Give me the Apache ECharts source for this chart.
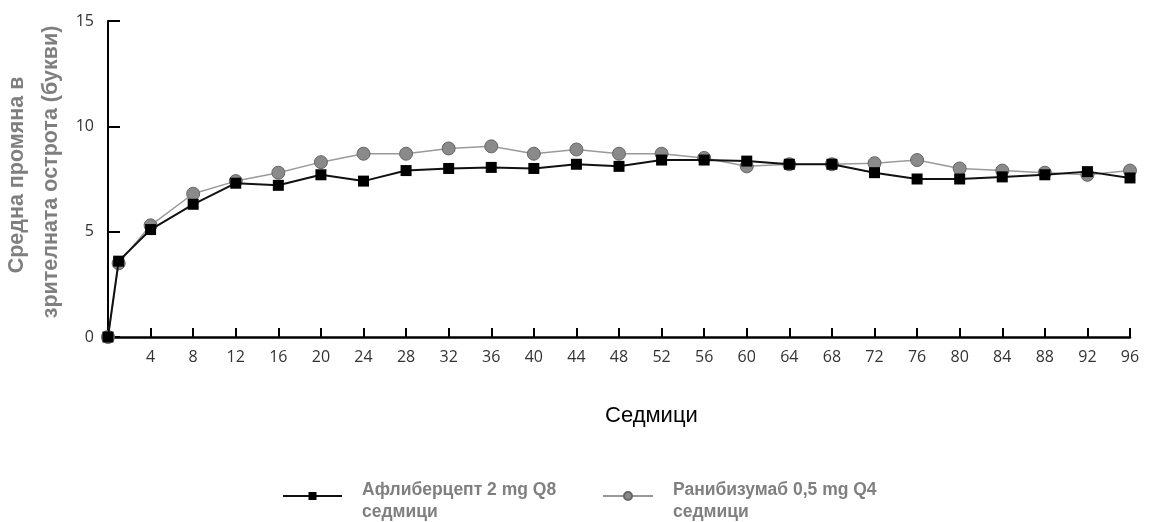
<!DOCTYPE html>
<html>
<head>
<meta charset="utf-8">
<script src="https://cdn.jsdelivr.net/npm/echarts@6/dist/echarts.min.js"></script>
<style>
html,body{margin:0;padding:0;background:#fff;}
#chart{width:1153px;height:522px;}
</style>
</head>
<body>
<div id="chart"></div>
<script>
const weeks = [0,1,4,8,12,16,20,24,28,32,36,40,44,48,52,56,60,64,68,72,76,80,84,88,92,96];
const aflibercept = [0,3.6,5.1,6.3,7.3,7.2,7.7,7.4,7.9,8.0,8.05,8.0,8.2,8.1,8.4,8.4,8.35,8.2,8.2,7.8,7.5,7.5,7.6,7.7,7.85,7.55];
const ranibizumab = [0,3.5,5.3,6.8,7.4,7.8,8.3,8.7,8.7,8.95,9.05,8.7,8.9,8.7,8.7,8.5,8.1,8.2,8.2,8.25,8.4,8.0,7.9,7.8,7.7,7.9];
const seriesNames = ['Афлиберцепт 2 mg Q8\nседмици','Ранибизумаб 0,5 mg Q4\nседмици'];
const yTitleLines = ['Средна промяна в','зрителната острота (букви)'];
const xTitle = 'Седмици';

const chart = echarts.init(document.getElementById('chart'));
const pair = (arr) => weeks.map((w,i)=>[w,arr[i]]);
const lgFont = {
  fontFamily: '"Liberation Sans",Arial,sans-serif',
  fontSize: 17.5, fontWeight: 'bold', color: '#7f7f7f'
};
const legendText = Object.assign({}, lgFont, {
  padding: [0,0,0,15],
  rich: {
    a: Object.assign({}, lgFont, {height: 22, padding: [10,0,0,0]}),
    b: Object.assign({}, lgFont, {height: 22})
  }
});
const legendFormatter = name => {
  const parts = name.split('\n');
  return '{a|' + parts[0] + '}\n{b|' + parts[1] + '}';
};
const yTitleStyle = {
  fill: '#7f7f7f', fontSize: 21.5, fontWeight: 'bold',
  fontFamily: '"Liberation Sans",Arial,sans-serif',
  align: 'center', verticalAlign: 'middle'
};
chart.setOption({
  animation: false,
  backgroundColor: '#fff',
  grid: {left: 108, right: 23, top: 21, bottom: 185, containLabel: false, outerBoundsMode: 'none'},
  xAxis: {
    type: 'value', min: 0, max: 96, interval: 4,
    axisLine: {show: true, lineStyle: {color: '#000', width: 2.5}},
    axisTick: {show: true, inside: true, length: 9, lineStyle: {color: '#000', width: 2}},
    splitLine: {show: false},
    axisLabel: {
      margin: 12, color: '#333', fontSize: 16,
      fontFamily: '"Open Sans","DejaVu Sans",sans-serif',
      formatter: v => v === 0 ? '' : String(v)
    }
  },
  yAxis: {
    type: 'value', min: 0, max: 15, interval: 5,
    axisLine: {show: true, lineStyle: {color: '#000', width: 2}},
    axisTick: {show: true, inside: true, length: 12, lineStyle: {color: '#000', width: 2}},
    splitLine: {show: false},
    axisLabel: {margin: 14, color: '#333', fontSize: 16, fontFamily: '"Open Sans","DejaVu Sans",sans-serif'}
  },
  legend: [
    {data: [seriesNames[0]], left: 277, top: 476, itemWidth: 59, itemHeight: 10, formatter: legendFormatter, textStyle: legendText},
    {data: [seriesNames[1]], left: 597, top: 476, itemWidth: 50, itemHeight: 10, formatter: legendFormatter, textStyle: legendText}
  ],
  graphic: [
    {
      type: 'text', left: 605, top: 405,
      style: {text: xTitle, fill: '#000', fontSize: 22, fontFamily: '"Liberation Sans",Arial,sans-serif'}
    },
    {
      type: 'text', x: 17, y: 175, rotation: Math.PI / 2,
      style: Object.assign({text: yTitleLines[0]}, yTitleStyle)
    },
    {
      type: 'text', x: 51, y: 172, rotation: Math.PI / 2,
      style: Object.assign({text: yTitleLines[1]}, yTitleStyle)
    }
  ],
  series: [
    {
      name: seriesNames[1], type: 'line', data: pair(ranibizumab),
      symbol: 'circle', symbolSize: 13,
      lineStyle: {color: '#9a9a9a', width: 1.5},
      itemStyle: {color: '#8a8a8a', borderColor: '#666', borderWidth: 1},
      z: 2
    },
    {
      name: seriesNames[0], type: 'line', data: pair(aflibercept),
      symbol: 'rect', symbolSize: 11,
      lineStyle: {color: '#111', width: 2},
      itemStyle: {color: '#000'},
      z: 3
    }
  ]
});
</script>
</body>
</html>
